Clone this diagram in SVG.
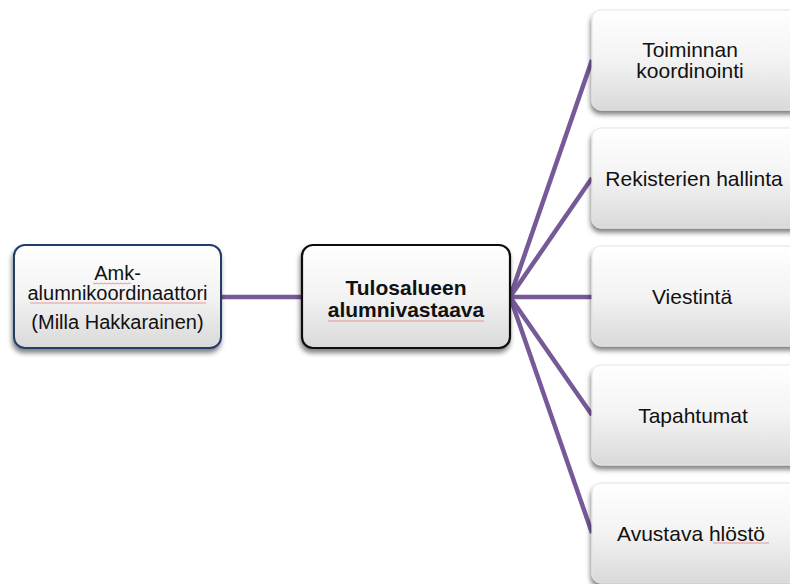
<svg xmlns="http://www.w3.org/2000/svg" width="790" height="584" viewBox="0 0 790 584">
<defs>
<linearGradient id="g" x1="0" y1="0" x2="0" y2="1">
<stop offset="0" stop-color="#ffffff"/>
<stop offset="0.5" stop-color="#f3f3f3"/>
<stop offset="1" stop-color="#d9d9d9"/>
</linearGradient>
<filter id="sh" x="-10%" y="-10%" width="125%" height="130%">
<feGaussianBlur in="SourceAlpha" stdDeviation="2.5"/>
<feOffset dx="-1" dy="4" result="b"/>
<feComponentTransfer><feFuncA type="linear" slope="0.5"/></feComponentTransfer>
<feMerge><feMergeNode/><feMergeNode in="SourceGraphic"/></feMerge>
</filter>
</defs>
<style>
.t{font-family:"Liberation Sans",Arial,sans-serif;font-size:20px;fill:#111;text-anchor:middle}
.r{font-size:21px}
.b{font-weight:bold;font-size:21px}
.leaf{fill:url(#g);stroke:#e4e4e4;stroke-width:1;filter:url(#sh)}
.c{stroke:#765a98;stroke-width:4.5;fill:none;stroke-linecap:butt}
.sq{stroke:#e87d7d;stroke-width:1;fill:none;opacity:0.8}
</style>
<rect width="790" height="584" fill="#ffffff"/>
<g id="connectors">
<line class="c" x1="221" y1="297" x2="302" y2="297"/>
<line class="c" x1="510" y1="297" x2="592" y2="60"/>
<line class="c" x1="510" y1="297" x2="592" y2="178"/>
<line class="c" x1="510" y1="297" x2="592" y2="297"/>
<line class="c" x1="510" y1="297" x2="592" y2="415"/>
<line class="c" x1="510" y1="297" x2="592" y2="533"/>
</g>
<g id="n-amk">
<rect x="14" y="245" width="207" height="103" rx="11" fill="url(#g)" stroke="#223e6a" stroke-width="2" filter="url(#sh)"/>
<text class="t" x="117.5" y="280">Amk-</text>
<text class="t" x="117.5" y="300">alumnikoordinaattori</text>
<text class="t" x="117.5" y="329">(Milla Hakkarainen)</text>
<path class="sq" d="M93 283 l2 1 l2 -1 l2 1 l2 -1 l2 1 l2 -1 l2 1 l2 -1 l2 1 l2 -1 l2 1 l2 -1 l2 1 l2 -1 l2 1 l2 -1 l2 1 l2 -1 l2 1"/>
<path class="sq" d="M30 303 h176"/>
</g>
<g id="n-tulos">
<rect x="302" y="245" width="208" height="103" rx="11" fill="url(#g)" stroke="#111" stroke-width="2.2" filter="url(#sh)"/>
<text class="t b" x="406" y="295">Tulosalueen</text>
<text class="t b" x="406" y="317">alumnivastaava</text>
<path class="sq" d="M328 321 h156"/>
</g>
<g id="n-toiminnan">
<rect class="leaf" x="592" y="10" width="215" height="100" rx="9"/>
<text class="t r" x="690" y="57">Toiminnan</text>
<text class="t r" x="690" y="78">koordinointi</text>
</g>
<g id="n-rekisterien">
<rect class="leaf" x="592" y="128" width="215" height="100" rx="9"/>
<text class="t r" x="694" y="186">Rekisterien hallinta</text>
</g>
<g id="n-viestinta">
<rect class="leaf" x="592" y="246" width="215" height="100" rx="9"/>
<text class="t r" x="692" y="304">Viestintä</text>
</g>
<g id="n-tapahtumat">
<rect class="leaf" x="592" y="365" width="215" height="100" rx="9"/>
<text class="t r" x="693" y="423">Tapahtumat</text>
</g>
<g id="n-avustava">
<rect class="leaf" x="592" y="483" width="215" height="100" rx="9"/>
<text class="t r" x="691" y="541">Avustava hlöstö</text>
<path class="sq" d="M713 543 h56"/>
</g>
</svg>
